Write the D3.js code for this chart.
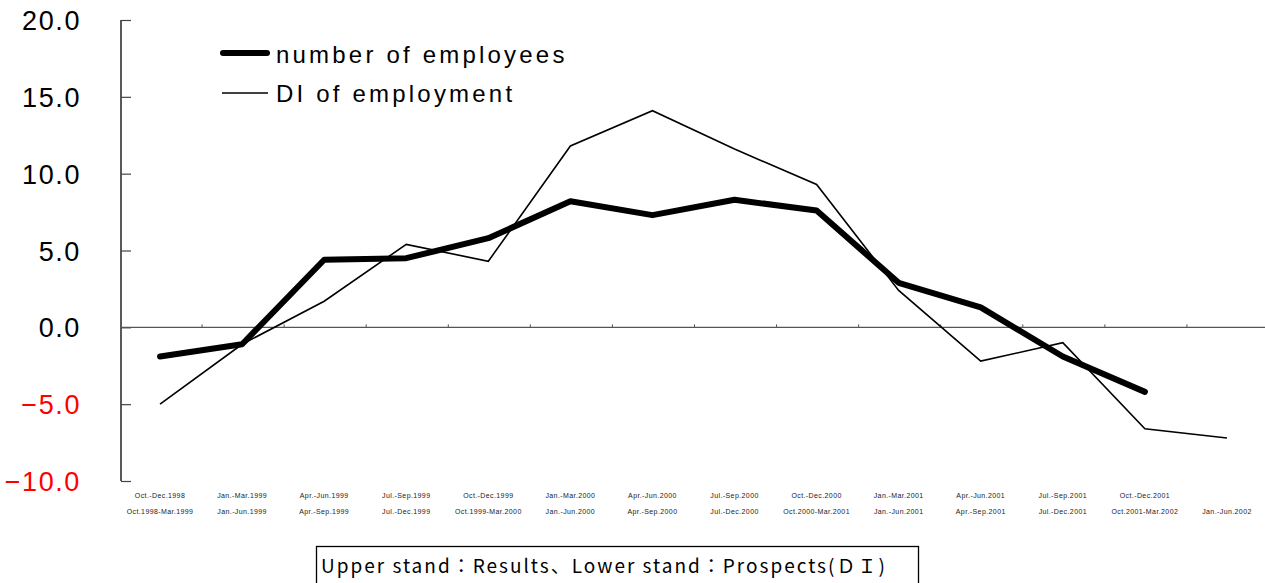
<!DOCTYPE html>
<html><head><meta charset="utf-8">
<script src="https://cdn.jsdelivr.net/npm/d3@7"></script>
<style>body{margin:0;background:#fff;}svg{display:block;}</style>
</head><body>
<svg id="c" width="1265" height="583"></svg>
<script>
const upperLabels = ["Oct.-Dec.1998","Jan.-Mar.1999","Apr.-Jun.1999","Jul.-Sep.1999","Oct.-Dec.1999","Jan.-Mar.2000","Apr.-Jun.2000","Jul.-Sep.2000","Oct.-Dec.2000","Jan.-Mar.2001","Apr.-Jun.2001","Jul.-Sep.2001","Oct.-Dec.2001",""];
const lowerLabels = ["Oct.1998-Mar.1999","Jan.-Jun.1999","Apr.-Sep.1999","Jul.-Dec.1999","Oct.1999-Mar.2000","Jan.-Jun.2000","Apr.-Sep.2000","Jul.-Dec.2000","Oct.2000-Mar.2001","Jan.-Jun.2001","Apr.-Sep.2001","Jul.-Dec.2001","Oct.2001-Mar.2002","Jan.-Jun.2002"];
const employees = [-1.9,-1.1,4.4,4.5,5.8,8.2,7.3,8.3,7.6,2.9,1.3,-1.9,-4.2];
const diEmployment = [-5.0,-1.1,1.7,5.4,4.3,11.8,14.1,11.6,9.3,2.4,-2.2,-1.0,-6.6,-7.2];
const yTicks = [-10,-5,0,5,10,15,20];
const seriesNames = ["number of employees","DI of employment"];
const noteText = "Upper stand：Results、Lower stand：Prospects(ＤＩ)";

const svg = d3.select("#c");
const x = d3.scaleBand().domain(d3.range(lowerLabels.length)).range([119,1268]);
const y = d3.scaleLinear().domain([-10,20]).range([481,20]);
const cx = i => x(i) + x.bandwidth()/2;

// y axis
const yAxis = d3.axisRight(y).tickValues(yTicks).tickSize(10).tickFormat("");
const ga = svg.append("g").attr("transform","translate(121,0)").call(yAxis);
ga.select(".domain").attr("stroke","#000").attr("stroke-width",1.3).attr("d","M0,20V481");
ga.selectAll(".tick line").attr("stroke","#444").attr("stroke-width",1.2);

svg.append("g").selectAll("text").data(yTicks).join("text")
  .attr("x",81).attr("y",d=>y(d)+10)
  .attr("text-anchor","end")
  .attr("font-family","Liberation Sans, Arial, sans-serif")
  .attr("font-size",27).attr("letter-spacing",1.6)
  .attr("fill",d=>d<0?"#ff0000":"#000")
  .text(d=>d3.format(".1f")(d));

// zero line with boundary ticks
svg.append("line").attr("x1",121).attr("x2",1265).attr("y1",y(0)).attr("y2",y(0))
  .attr("stroke","#555").attr("stroke-width",1.3);
const bounds = d3.range(1,lowerLabels.length).map(i=>x(i)+1);
svg.append("g").selectAll("line").data(bounds).join("line")
  .attr("x1",d=>d).attr("x2",d=>d).attr("y1",y(0)).attr("y2",y(0)-3)
  .attr("stroke","#555").attr("stroke-width",1);

// x labels
const lf = "Liberation Sans, Arial, sans-serif";
svg.append("g").selectAll("text").data(upperLabels).join("text")
  .attr("x",(d,i)=>cx(i)).attr("y",498).attr("text-anchor","middle")
  .attr("font-family",lf).attr("font-size",7).attr("letter-spacing",0.4).attr("fill","#222")
  .text(d=>d);
svg.append("g").selectAll("text").data(lowerLabels).join("text")
  .attr("x",(d,i)=>cx(i)).attr("y",514).attr("text-anchor","middle")
  .attr("font-family",lf).attr("font-size",7).attr("letter-spacing",0.4).attr("fill","#222")
  .text(d=>d);

// lines
const line = d3.line().x((d,i)=>cx(i)).y(d=>y(d));
svg.append("path").datum(diEmployment).attr("d",line)
  .attr("fill","none").attr("stroke","#000").attr("stroke-width",1.6).attr("stroke-linejoin","miter");
svg.append("path").datum(employees).attr("d",line)
  .attr("fill","none").attr("stroke","#000").attr("stroke-width",6).attr("stroke-linejoin","round").attr("stroke-linecap","round");

// legend
const leg = svg.append("g");
leg.append("line").attr("x1",223).attr("x2",267).attr("y1",53).attr("y2",53)
  .attr("stroke","#000").attr("stroke-width",6).attr("stroke-linecap","round");
leg.append("line").attr("x1",222).attr("x2",268).attr("y1",93).attr("y2",93)
  .attr("stroke","#000").attr("stroke-width",1.6);
leg.selectAll("text").data(seriesNames).join("text")
  .attr("x",276).attr("y",(d,i)=>63+i*39)
  .attr("font-family",lf).attr("font-size",24).attr("letter-spacing",3.2)
  .text(d=>d);

// note box
svg.append("rect").attr("x",316.5).attr("y",546.5).attr("width",602).attr("height",40)
  .attr("fill","none").attr("stroke","#000").attr("stroke-width",1.3);
svg.append("text").attr("x",321).attr("y",573)
  .attr("font-family","Noto Sans CJK JP, Liberation Sans, sans-serif")
  .attr("font-size",19).attr("letter-spacing",2.0)
  .text(noteText);
</script>
</body></html>
